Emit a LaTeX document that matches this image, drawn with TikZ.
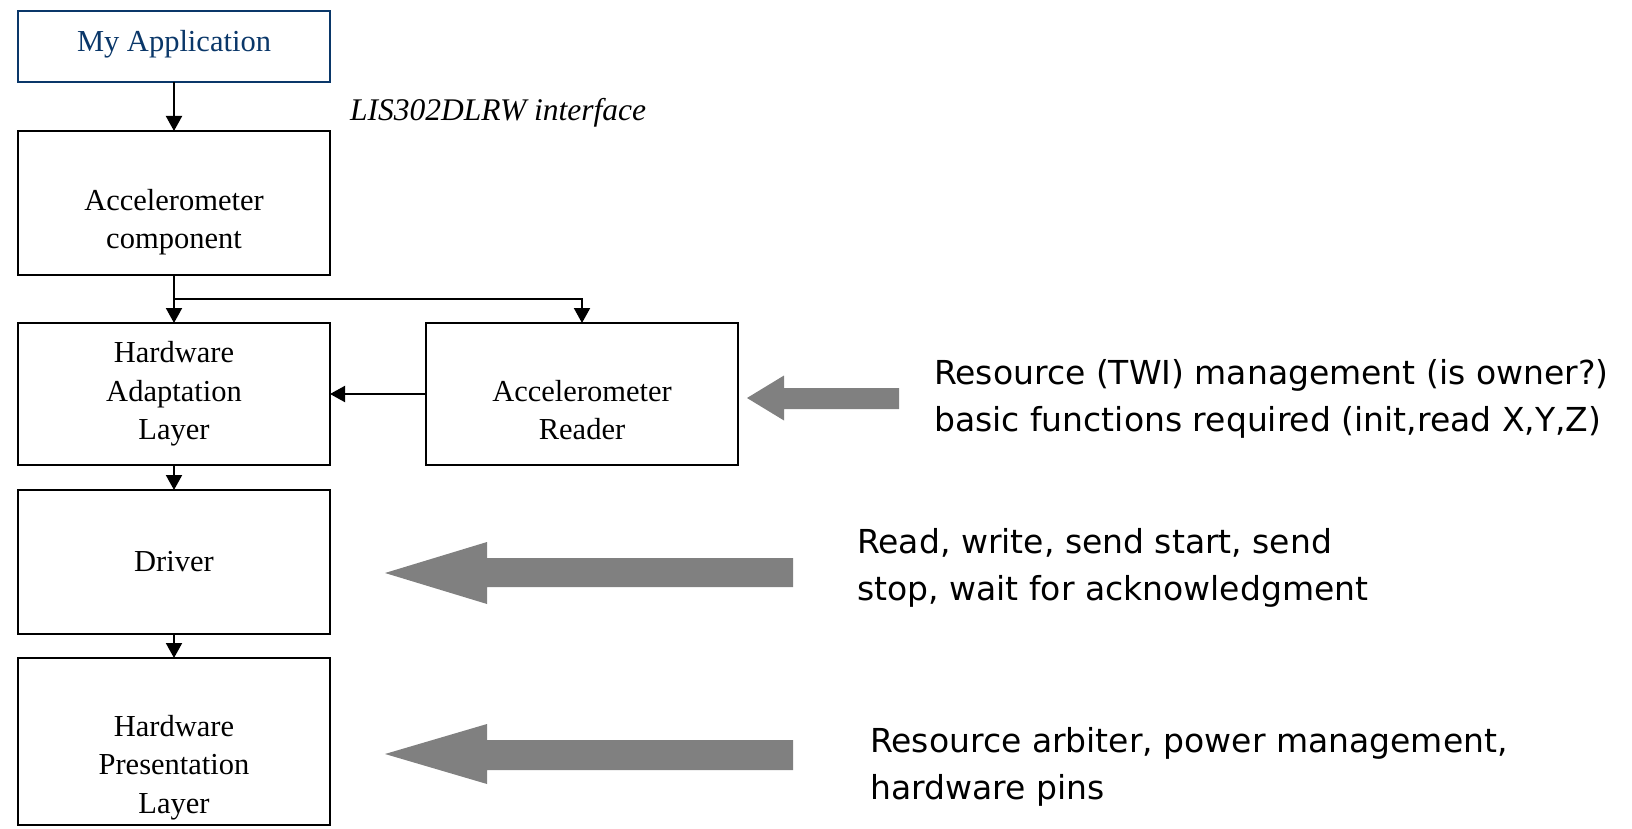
\documentclass[tikz,border=0pt]{standalone}
\usepackage{fontspec}
\setmainfont{Liberation Serif}
\newfontfamily\notefont{DejaVu Sans}
\usepackage{xcolor}
\usetikzlibrary{arrows.meta,positioning}
\definecolor{appblue}{RGB}{10,55,105}
\tikzset{
  block/.style={draw, line width=2pt, minimum width=312pt, inner sep=0pt, outer sep=0pt,
                align=center, font=\fontsize{30.5}{38.5}\selectfont},
  appblock/.style={block, draw=appblue, text=appblue, minimum height=71pt},
  inlabel/.style={inner sep=0pt, align=center, font=\fontsize{30.5}{38.5}\selectfont},
  iface/.style={inner sep=0pt, anchor=west, font=\itshape\fontsize{31.5}{38.5}\selectfont},
  note/.style={inner sep=0pt, anchor=west, align=left,
               font=\notefont\fontsize{33}{46.5}\selectfont},
  arrow/.style={-{Triangle[length=15pt,width=16pt]}, line width=2pt},
  bigarrow/.style={fill=gray}
}

\begin{document}
\begin{tikzpicture}[x=1pt, y=-1pt]
  \useasboundingbox (0,0) rectangle (1632,829);

  % layer stack
  \node[appblock] (app) at (174,46.5) {};
  \node[block, minimum height=144pt, below=49pt of app] (comp) {};
  \node[block, minimum height=142pt, below=48pt of comp] (hal) {Hardware\\Adaptation\\Layer};
  \node[block, minimum height=142pt, right=96pt of hal] (rdr) {};
  \node[block, minimum height=144pt, below=25pt of hal] (drv) {Driver};
  \node[block, minimum height=167pt, below=24pt of drv] (hpl) {};

  \node[inlabel, text=appblue] (apptxt) at ([yshift=2pt]app.center) {My Application};
  \node[inlabel] (comptxt) at ([yshift=-19pt]comp.center) {Accelerometer\\component};
  \node[inlabel] (rdrtxt) at ([yshift=-16pt]rdr.center) {Accelerometer\\Reader};
  \node[inlabel] (hpltxt) at ([yshift=-26pt]hpl.center) {Hardware\\Presentation\\Layer};

  \node[iface] (ifacetxt) at (350,113) {LIS302DLRW interface};

  \coordinate (split) at ([yshift=-24pt]comp.south);

  \draw[arrow] (app)--(comp);
  \draw[arrow] (comp)--(hal);
  \draw[arrow] (split)-|(rdr.north);
  \draw[arrow] (rdr)--(hal);
  \draw[arrow] (hal)--(drv);
  \draw[arrow] (drv)--(hpl);

  % gray hints
  \fill[bigarrow] (747,398)--(784,375.5)--(784,388)--(899,388)--(899,409)--(784,409)--(784,420.5)--cycle;
  \fill[bigarrow] (385,573)--(487,542)--(487,558)--(793,558)--(793,587)--(487,587)--(487,604)--cycle;
  \fill[bigarrow] (385,754)--(487,724)--(487,740)--(793,740)--(793,770)--(487,770)--(487,784)--cycle;

  \node[note] (note1) at (934,399) {Resource (TWI) management (is owner?)\\basic functions required (init,read X,Y,Z)};
  \node[note] (note2) at (857,568) {Read, write, send start, send\\stop, wait for acknowledgment};
  \node[note] (note3) at (870,767) {Resource arbiter, power management,\\hardware pins};
\end{tikzpicture}
\end{document}
